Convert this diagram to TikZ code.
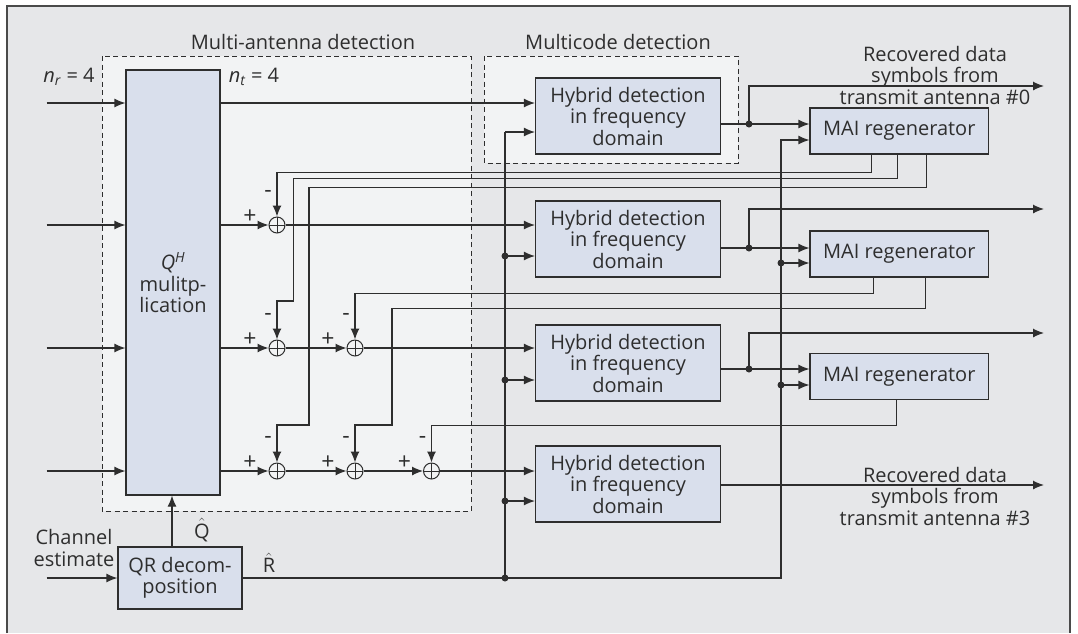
\documentclass[tikz,border=0pt]{standalone}
\usepackage{fontspec}
\setmainfont{Open Sans}
\usepackage{tikz}
\usetikzlibrary{arrows.meta}

\definecolor{framebg}{HTML}{E6E7E9}
\definecolor{framec}{HTML}{4A4A4A}
\definecolor{dashbg}{HTML}{F2F3F4}
\definecolor{boxbg}{HTML}{D9DFEC}
\definecolor{linec}{HTML}{2E2E2E}

\tikzset{
  blk/.style={draw=linec, fill=boxbg, line width=1.2pt, inner sep=0pt, align=center},
  arr/.style={-{Latex[length=11pt,width=9pt]}},
  sum/.style={circle, draw=linec, fill=dashbg, line width=1pt, minimum size=16pt, inner sep=0pt,
    path picture={\draw[linec, line width=1pt] (path picture bounding box.north) -- (path picture bounding box.south)
      (path picture bounding box.west) -- (path picture bounding box.east);}},
  dot/.style={circle, fill=linec, minimum size=7pt, inner sep=0pt},
  grp/.style={draw=linec, fill=dashbg, line width=1pt, dash pattern=on 5pt off 3.5pt},
  sign/.style={inner sep=0pt, font=\fontsize{23}{23}\selectfont},
}

\begin{document}
\begin{tikzpicture}[x=1pt, y=-1pt, font=\fontsize{20}{21.5}\selectfont, line width=1.2pt, color=linec]
        \useasboundingbox (0,0) rectangle (1078,633);
        % frame
        \fill[framebg] (7,6) rectangle (1070,633);
        \draw[framec, line width=1.6pt] (7,633) -- (7,6) -- (1070,6) -- (1070,633);

        % dashed groups
        \draw[grp] (102,56) rectangle (471,511);
        \draw[grp] (484,56) rectangle (738,163);
        \node (lblma) at (303,42) {Multi-antenna detection};
        \node (lblmc) at (618,42) {Multicode detection};

        % blocks
        \node[blk, minimum width=94pt, minimum height=425pt] (qh) at (173,282.5) {\textit{Q}\textsuperscript{\textit{H}}\\mulitp-\\lication};
        \node[blk, minimum width=124pt, minimum height=62pt] (qr) at (180,578) {QR decom-\\position};
        \foreach \y [count=\i from 0] in {116,239,363,484}
            \node[blk, minimum width=185pt, minimum height=76pt] (hyb\i) at (628,\y) {Hybrid detection\\in frequency\\domain};
        \foreach \y [count=\i from 0] in {131,254,376.5}
            \node[blk, minimum width=178.5pt, minimum height=46pt] (mai\i) at (899.25,\y) {MAI regenerator};

        % adders
        \foreach \n/\x/\y in {s11/277/225, s21/277/348, s22/355/348, s31/277/471, s32/355/471, s33/431.5/471} {
            \node[sum] (\n) at (\x,\y) {};
            \node[sign] (p\n) at ([shift={(-27pt,8pt)}]\n.center) {+};
            \node[sign] (m\n) at ([shift={(-9pt,31pt)}]\n.center) {-};
        }

        % inputs
        \foreach \y [count=\i from 0] in {103,225,348,471} {
            \coordinate (in\i) at (46.5,\y);
            \draw[arr] (in\i) -- (qh.west |- in\i);
        }
        \coordinate (inq) at (46.5,578);
        \draw[arr] (inq) -- (qr.west);
        \node[align=center] (chest) at (74,548) {Channel\\estimate};
        \node (nr) at (69,77) {\textit{n}\textsubscript{\textit{r}} = 4};
        \node (nt) at (254,77) {\textit{n}\textsubscript{\textit{t}} = 4};

        % rows through the adders
        \draw[arr] (qh.east |- in0) -- (hyb0.west |- in0);
        \draw[arr] (qh.east |- in1) -- (s11);
        \draw[arr] (s11) -- (hyb1.west |- s11);
        \draw[arr] (qh.east |- in2) -- (s21);
        \draw[arr] (s21) -- (s22);
        \draw[arr] (s22) -- (hyb2.west |- s22);
        \draw[arr] (qh.east |- in3) -- (s31);
        \draw[arr] (s31) -- (s32);
        \draw[arr] (s32) -- (s33);
        \draw[arr] (s33) -- (hyb3.west |- s33);

        % Q and R estimates
        \draw[arr] ([xshift=-8pt]qr.north) -- ([xshift=-8pt]qr.north |- qh.south);
        \node (qhat) at (202,530) {$\hat{\textrm{Q}}$};
        \node (rhat) at (269,563) {$\hat{\textrm{R}}$};
        \coordinate (bus) at (505,578);
        \foreach \y [count=\i from 0] in {132,256,380,501} {
            \coordinate (b\i) at (505,\y);
            \draw[arr] (b\i) -- (hyb\i.west |- b\i);
        }
        \draw (b0) -- (bus);
        \coordinate (r0) at (781,140);
        \coordinate (r1) at (781,263);
        \coordinate (r2) at (781,385);
        \draw[arr] (qr.east) -| (r0) -- (mai0.west |- r0);
        \draw[arr] (r1) -- (mai1.west |- r1);
        \draw[arr] (r2) -- (mai2.west |- r2);

        % detector outputs
        \foreach \y/\t [count=\i from 0] in {124/86, 248/209, 369/333} {
            \coordinate (j\i) at (749,\y);
            \coordinate (o\i) at (1044,\t);
            \draw[arr] (hyb\i.east |- j\i) -- (mai\i.west |- j\i);
            \draw[arr] (j\i) |- (o\i);
        }
        \coordinate (o3) at (1044,485);
        \draw[arr] (hyb3.east |- o3) -- (o3);
        \node[align=center] (rec0) at (935,75) {Recovered data\\symbols from\\transmit antenna \#0};
        \node[align=center] (rec3) at (935,496) {Recovered data\\symbols from\\transmit antenna \#3};

        % MAI feedback
        \draw[arr] ([xshift=-28pt]mai0.south) -- ++(0,18) -| (s11);
        \draw[arr] ([xshift=-2pt]mai0.south) -- ++(0,24) -| (293.5,301) -| (s21);
        \draw[arr] ([xshift=27pt]mai0.south) -- ++(0,33) -| (309,425) -| (s31);
        \draw[arr] ([xshift=-26pt]mai1.south) -- ++(0,16) -| (s22);
        \draw[arr] ([xshift=26pt]mai1.south) -- ++(0,31) -| (392,425) -| (s32);
        \draw[arr] ([xshift=-3pt]mai2.south) -- ++(0,25) -| (s33);

        % junction dots
        \foreach \c in {j0,j1,j2,b1,b2,b3,bus,r1,r2}
            \node[dot] (d\c) at (\c) {};
\end{tikzpicture}
\end{document}
